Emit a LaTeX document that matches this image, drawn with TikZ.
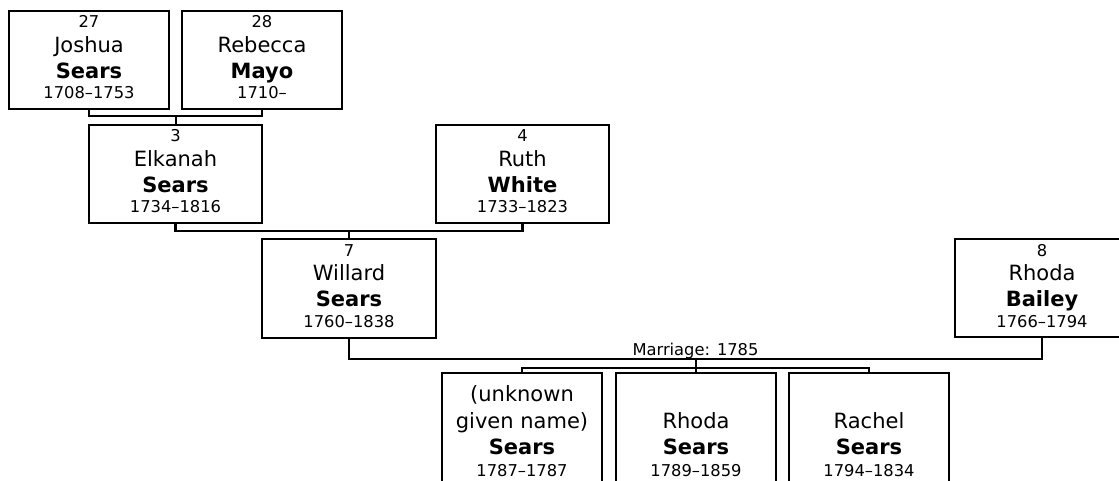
\documentclass[tikz,border=0pt]{standalone}
\usepackage{fontspec}
\setmainfont{DejaVu Sans}
\tikzset{
  pbox/.style={draw, line width=2.4pt, fill=white, inner sep=0pt, outer sep=0pt, rectangle},
  link/.style={draw, line width=2.4pt, line join=miter},
  smalltxt/.style={anchor=base, inner sep=0pt, font=\fontsize{16.3}{19}\selectfont},
  nametxt/.style={anchor=base, inner sep=0pt, font=\fontsize{21}{25}\selectfont},
  surtxt/.style={anchor=base, inner sep=0pt, font=\fontsize{21}{25}\selectfont\bfseries},
}
% #1 name, #2 left, #3 top, #4 right, #5 bottom, #6 num, #7 given, #8 surname, #9 dates
\newcommand\personbox[9]{%
  \node[pbox, minimum width={(#4-#2)*1pt}, minimum height={(#5-#3)*1pt}] (#1) at ({(#2+#4)/2},{(#3+#5)/2}) {};
  \node[smalltxt] (#1-num) at ({(#2+#4)/2},{#3+17}) {#6};
  \node[nametxt] (#1-given) at ({(#2+#4)/2},{#3+41.5}) {#7};
  \node[surtxt] (#1-sur) at ({(#2+#4)/2},{#3+67.5}) {#8};
  \node[smalltxt] (#1-dates) at ({(#2+#4)/2},{#3+88}) {#9};
}
\begin{document}
\begin{tikzpicture}[x=1pt,y=-1pt]
\useasboundingbox (0,0) rectangle (1119,481);
\clip (0,0) rectangle (1119,481);
\fill[white] (0,0) rectangle (1119,481);

\personbox{joshua}{9}{11}{169}{109}{27}{Joshua}{Sears}{1708–1753}
\personbox{rebecca}{182}{11}{342}{109}{28}{Rebecca}{Mayo}{1710–}
\personbox{elkanah}{89}{125}{262}{223}{3}{Elkanah}{Sears}{1734–1816}
\personbox{ruth}{436}{125}{609}{223}{4}{Ruth}{White}{1733–1823}
\personbox{willard}{262}{239}{436}{338}{7}{Willard}{Sears}{1760–1838}
\personbox{bailey}{955}{239}{1129}{337}{8}{Rhoda}{Bailey}{1766–1794}

% children
\node[pbox, minimum width=160pt, minimum height=140pt] (c1) at (522,443) {};
\node[nametxt] (c1-g1) at (522,401) {(unknown};
\node[nametxt] (c1-g2) at (522,428) {given name)};
\node[surtxt] (c1-sur) at (522,454) {Sears};
\node[smalltxt] (c1-dates) at (522,476) {1787–1787};

\node[pbox, minimum width=160pt, minimum height=140pt] (c2) at (696,443) {};
\node[nametxt] (c2-g) at (696,428) {Rhoda};
\node[surtxt] (c2-sur) at (696,454) {Sears};
\node[smalltxt] (c2-dates) at (696,476) {1789–1859};

\node[pbox, minimum width=160pt, minimum height=140pt] (c3) at (869,443) {};
\node[nametxt] (c3-g) at (869,428) {Rachel};
\node[surtxt] (c3-sur) at (869,454) {Sears};
\node[smalltxt] (c3-dates) at (869,476) {1794–1834};

% connectors
\coordinate (m1) at (176,116);
\draw[link] (joshua.south) |- (m1) -| (rebecca.south);
\draw[link] (m1) -- (m1 |- elkanah.north);

\coordinate (m2) at (349,231);
\draw[link] (elkanah.south) |- (m2) -| (ruth.south);
\draw[link] (m2) -- (willard.north);

\coordinate (m3) at (696,359);
\draw[link] (willard.south) |- (m3) -| (bailey.south);
\node[smalltxt] (mlabel) at (695.5,355) {Marriage: 1785};

\coordinate (m4) at (696,368);
\draw[link] (m3) -- (m4);
\draw[link] (c1.north) |- (m4) -| (c3.north);
\draw[link] (m4) -- (c2.north);
\end{tikzpicture}
\end{document}
